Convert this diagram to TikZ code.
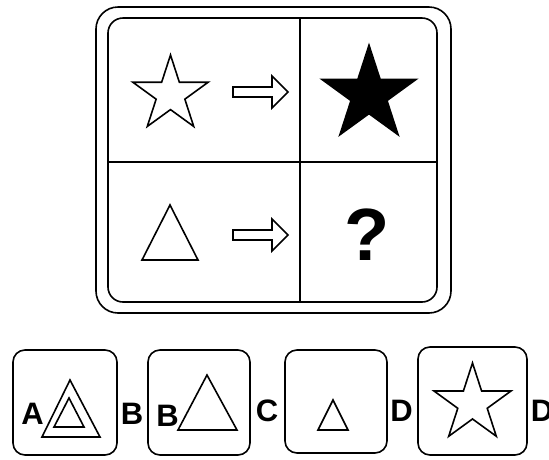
\documentclass[tikz,border=0pt]{standalone}
\usepackage{fontspec}
\setmainfont{Liberation Sans}
\usetikzlibrary{shapes.geometric}
\begin{document}
\begin{tikzpicture}[x=1pt, y=-1pt, line width=1.6pt]
  \tikzset{
    starshape/.style={star, star points=5, star point ratio=2.618, inner sep=0pt, outer sep=0pt},
    optbox/.style={draw, rounded corners=12pt},
    letter/.style={inner sep=0pt, font=\fontsize{31}{34}\selectfont\bfseries}
  }
  \useasboundingbox (0,0) rectangle (549,459);

  % Main frame (top)
  \draw[rounded corners=22pt] (96,7) rectangle (451,313);
  \draw[rounded corners=15pt] (108,18) rectangle (437,302);
  \coordinate (Vt) at (300,18);
  \coordinate (Vb) at (300,302);
  \coordinate (Hl) at (108,162);
  \coordinate (Hr) at (437,162);
  \draw (Vt) -- (Vb);
  \draw (Hl) -- (Hr);

  % first row
  \node[starshape, draw, minimum size=79pt] (star1) at (170.5,94.5) {};
  \draw (233,87) -- (272,87) -- (272,76) -- (288,92) -- (272,108) -- (272,97) -- (233,97) -- cycle;
  \node[starshape, draw, fill=black, minimum size=99pt] (star2) at (369,94.7) {};

  % second row
  \coordinate (T1) at (170,205);
  \coordinate (T2) at (142,260);
  \coordinate (T3) at (198,260);
  \draw (T1) -- (T2) -- (T3) -- cycle;
  \draw (233,230) -- (272,230) -- (272,219) -- (288,235) -- (272,251) -- (272,240) -- (233,240) -- cycle;
  \node[inner sep=0pt, font=\fontsize{74}{80}\selectfont\bfseries] (qm) at (367.5,235) {?};

  % Answer options (bottom)
  \draw[optbox] (13,350) rectangle (117,455);
  \draw[optbox] (148,350) rectangle (250,455);
  \draw[optbox] (285,350) rectangle (387,453);
  \draw[optbox] (418,347) rectangle (527,455);

  \draw (70,380) -- (42,437) -- (100,437) -- cycle;
  \draw (69,398) -- (54,427) -- (84,427) -- cycle;
  \draw (207,375) -- (178,430) -- (237,430) -- cycle;
  \draw (333,400) -- (318,430) -- (348,430) -- cycle;
  \node[starshape, draw, minimum size=81pt] (star3) at (472.5,403.5) {};

  \node[letter] (la) at (32.5,414) {A};
  \node[letter] (lb1) at (132,414) {B};
  \node[letter] (lb2) at (167.5,416) {B};
  \node[letter] (lc) at (267,411) {C};
  \node[letter] (ld1) at (401.5,411) {D};
  \node[letter] (ld2) at (542,411) {D};
\end{tikzpicture}
\end{document}
